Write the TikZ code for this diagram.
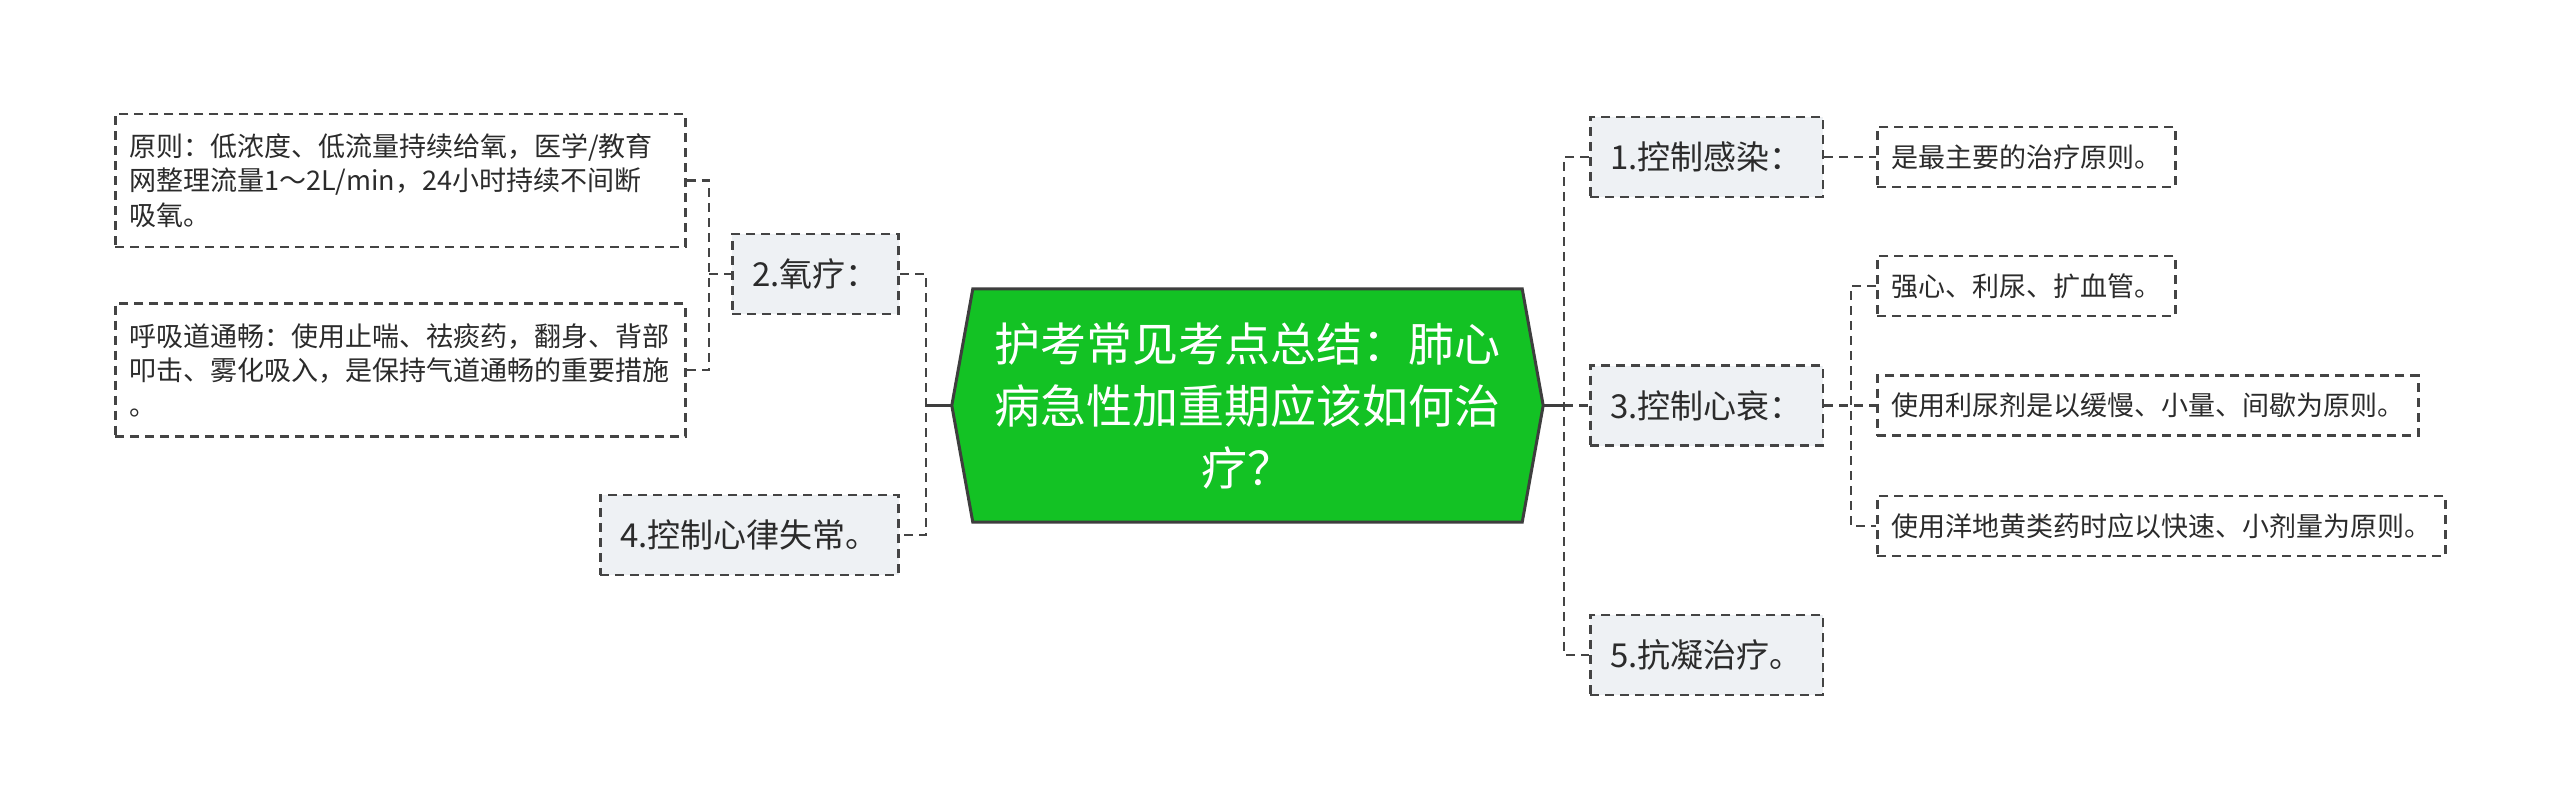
\documentclass[tikz,border=0pt]{standalone}
\usepackage{fontspec}
\setmainfont{Noto Sans CJK SC}
\usetikzlibrary{backgrounds}
\definecolor{hubgreen}{HTML}{13C224}
\definecolor{hubline}{HTML}{3E3E3E}
\definecolor{boxfill}{HTML}{EEF1F4}
\definecolor{linkgray}{HTML}{444444}
\definecolor{txtgray}{HTML}{2B2B2B}

\begin{document}
\begin{tikzpicture}[x=1pt,y=-1pt,
  link/.style={draw=linkgray,line width=2.6pt,dash pattern=on 9pt off 6pt},
  stub/.style={draw=hubline,line width=3.5pt},
  topic/.style={draw=linkgray,fill=boxfill,line width=2.6pt,dash pattern=on 9pt off 6pt,
    text=txtgray,font=\fontsize{33}{40}\selectfont,inner xsep=20pt,minimum height=80pt},
  leaf/.style={draw=linkgray,fill=white,line width=2.6pt,dash pattern=on 9pt off 6pt,
    text=txtgray,font=\fontsize{27}{34.5}\selectfont,inner xsep=14pt,minimum height=60pt,align=left}]
  \useasboundingbox (0,0) rectangle (2560,811);

  % centre
  \node[text=white,font=\fontsize{46}{62}\selectfont,align=center,
    minimum width=549pt,minimum height=233pt] (hub) at (1247.5,405.5)
    {护考常见考点总结：肺心\\病急性加重期应该如何治\\疗？};
  \coordinate (hubW) at ([xshift=-21pt]hub.west);
  \coordinate (hubE) at ([xshift=21pt]hub.east);
  \begin{scope}[on background layer]
    \draw[fill=hubgreen,draw=hubline,line width=3pt] (hub.north west) -- (hub.north east)
      -- (hubE) -- (hub.south east) -- (hub.south west) -- (hubW) -- cycle;
  \end{scope}

  % left side
  \node[topic,anchor=east] (ox) at (900,274) {2.氧疗：};
  \node[topic,anchor=east] (arr) at (900,535) {4.控制心律失常。};
  \node[leaf,anchor=west,text width=542pt,minimum height=133pt] (lfA) at (114,180.5)
    {原则：低浓度、低流量持续给氧，医学/教育\\网整理流量1～2L/min，24小时持续不间断\\吸氧。};
  \node[leaf,anchor=west,text width=542pt,minimum height=133pt] (lfB) at (114,370)
    {呼吸道通畅：使用止喘、祛痰药，翻身、背部\\叩击、雾化吸入，是保持气道通畅的重要措施\\。};

  % right side
  \node[topic,anchor=west] (inf) at (1589,157) {1.控制感染：};
  \node[topic,anchor=west] (hf) at (1589,405.5) {3.控制心衰：};
  \node[topic,anchor=west] (ac) at (1589,655) {5.抗凝治疗。};
  \node[leaf,anchor=west] (r1) at (1876,157) {是最主要的治疗原则。};
  \node[leaf,anchor=west] (r2) at (1876,286) {强心、利尿、扩血管。};
  \node[leaf,anchor=west] (r3) at (1876,405.5) {使用利尿剂是以缓慢、小量、间歇为原则。};
  \node[leaf,anchor=west] (r4) at (1876,526) {使用洋地黄类药时应以快速、小剂量为原则。};

  \coordinate (jL) at (926,405.5);
  \coordinate (jO) at (709,274);
  \coordinate (jR) at (1564,405.5);
  \coordinate (jH) at (1851,405.5);

  \draw[link] (ox.east) -| (jL) |- (arr.east);
  \draw[link] (lfA.east) -| (jO) |- (lfB.east);
  \draw[link] (jO) -- (ox.west);
  \draw[link] (inf.west) -| (jR) |- (ac.west);
  \draw[link] (jR) -- (hf.west);
  \draw[link] (inf.east) -- (r1.west);
  \draw[link] (r2.west) -| (jH) |- (r4.west);
  \draw[link] (hf.east) -- (r3.west);
  \draw[stub] (hubW) -- (jL);
  \draw[stub] (hubE) -- (jR);
\end{tikzpicture}
\end{document}
